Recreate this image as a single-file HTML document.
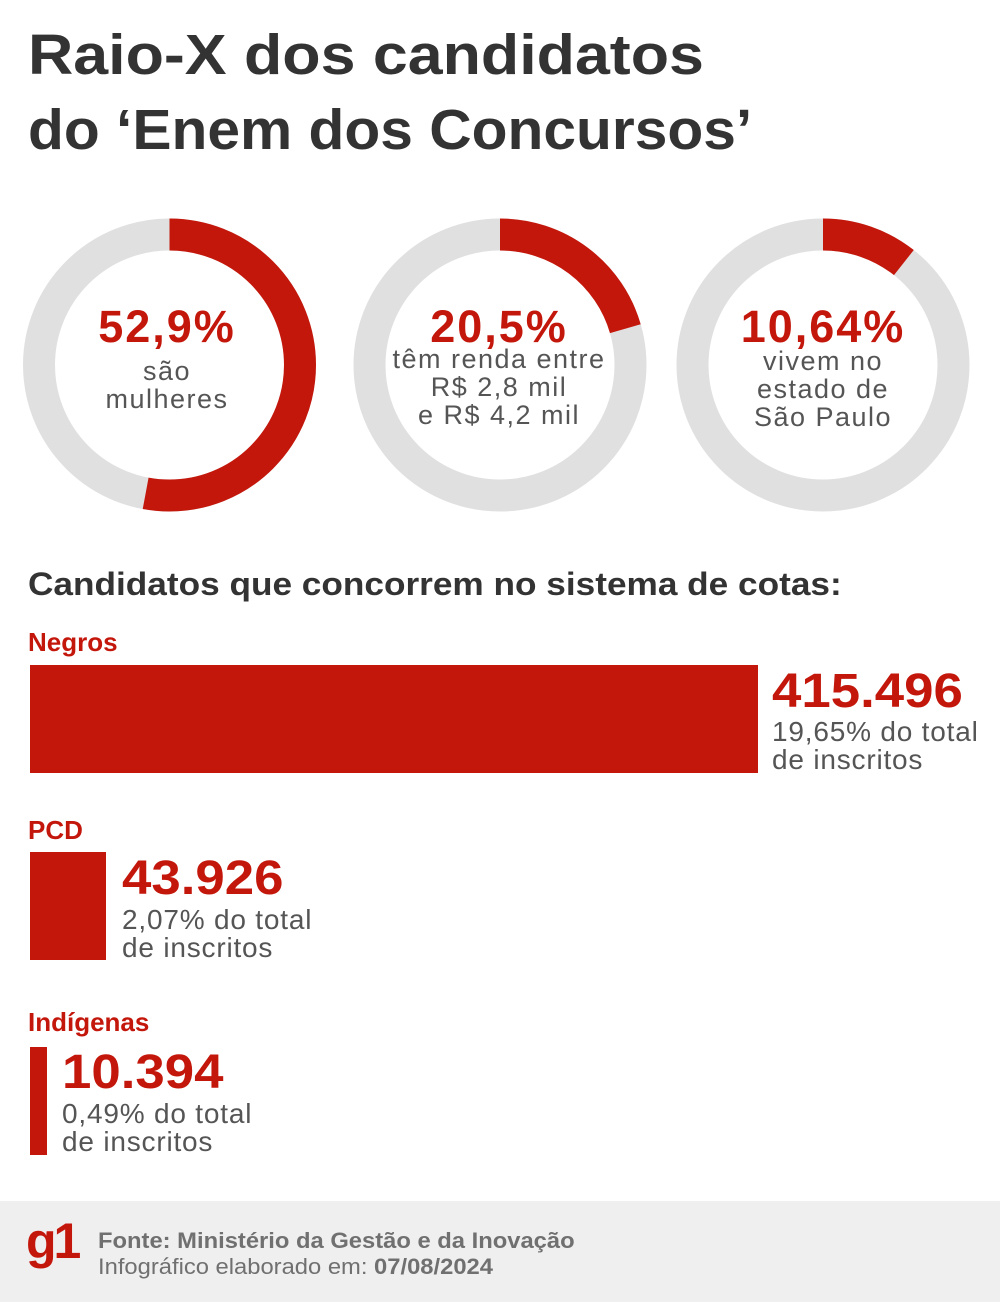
<!DOCTYPE html>
<html><head><meta charset="utf-8"><style>
body{margin:0;width:1000px;height:1302px;background:#fff;font-family:"Liberation Sans",sans-serif;position:relative;overflow:hidden}
.a{position:absolute;white-space:nowrap;transform-origin:0 0}
.t{left:28px;font-size:57px;font-weight:bold;color:#333}
.red{color:#c4170c;font-weight:bold}
.g{color:#555;letter-spacing:0.8px}
.bar{position:absolute;background:#c4170c;left:30px}
.num{font-size:48px;line-height:54px;transform:scaleX(1.1)}
</style></head><body>
<div class="a t" style="top:22px;transform:scaleX(1.1)">Raio-X dos candidatos</div>
<div class="a t" style="top:97px;transform:scaleX(1.03)">do ‘Enem dos Concursos’</div>
<svg class="a" style="left:0;top:0" width="1000" height="540">
<g fill="none" stroke-width="32">
<circle cx="169.5" cy="365" r="130.5" stroke="#e0e0e0"/>
<circle cx="169.5" cy="365" r="130.5" stroke="#c4170c" stroke-dasharray="433.8 1000" transform="rotate(-90 169.5 365)"/>
<circle cx="500" cy="365" r="130.5" stroke="#e0e0e0"/>
<circle cx="500" cy="365" r="130.5" stroke="#c4170c" stroke-dasharray="168.1 1000" transform="rotate(-90 500 365)"/>
<circle cx="823" cy="365" r="130.5" stroke="#e0e0e0"/>
<circle cx="823" cy="365" r="130.5" stroke="#c4170c" stroke-dasharray="87.2 1000" transform="rotate(-90 823 365)"/>
</g>
<g font-family="Liberation Sans" text-anchor="middle">
<g font-size="45" font-weight="bold" fill="#c4170c" letter-spacing="2">
<text x="167" y="342">52,9%</text>
<text x="499" y="342">20,5%</text>
<text x="823" y="342">10,64%</text>
</g>
<g font-size="27" fill="#555" letter-spacing="1.5">
<text x="167" y="380">são</text>
<text x="167" y="408">mulheres</text>
<text x="499" y="368">têm renda entre</text>
<text x="499" y="396">R$ 2,8 mil</text>
<text x="499" y="424">e R$ 4,2 mil</text>
<text x="823" y="370">vivem no</text>
<text x="823" y="398">estado de</text>
<text x="823" y="426">São Paulo</text>
</g>
</g></svg>
<div class="a" style="left:28px;top:566px;font-size:32px;font-weight:bold;color:#333;transform:scaleX(1.1)">Candidatos que concorrem no sistema de cotas:</div>
<div class="a red" style="left:28px;top:627px;font-size:26px">Negros</div>
<div class="bar" style="top:665px;width:728px;height:108px"></div>
<div class="a red num" style="left:772px;top:665px">415.496</div>
<div class="a g" style="left:772px;top:718px;font-size:28px;line-height:28px">19,65% do total<br>de inscritos</div>
<div class="a red" style="left:28px;top:815px;font-size:26px">PCD</div>
<div class="bar" style="top:852px;width:76px;height:108px"></div>
<div class="a red num" style="left:122px;top:852px">43.926</div>
<div class="a g" style="left:122px;top:906px;font-size:28px;line-height:28px">2,07% do total<br>de inscritos</div>
<div class="a red" style="left:28px;top:1007px;font-size:26px">Indígenas</div>
<div class="bar" style="top:1047px;width:17px;height:108px"></div>
<div class="a red num" style="left:62px;top:1046px">10.394</div>
<div class="a g" style="left:62px;top:1100px;font-size:28px;line-height:28px">0,49% do total<br>de inscritos</div>
<div class="a" style="left:0;top:1201px;width:1000px;height:101px;background:#efefef"></div>
<div class="a" style="left:26px;top:1212px;font-size:50px;font-weight:bold;color:#c4170c;letter-spacing:-3px">g1</div>
<div class="a" style="left:98px;top:1228px;font-size:22px;line-height:26px;color:#707070;transform:scaleX(1.08)"><b>Fonte: Ministério da Gestão e da Inovação</b><br>Infográfico elaborado em: <b>07/08/2024</b></div>
</body></html>
